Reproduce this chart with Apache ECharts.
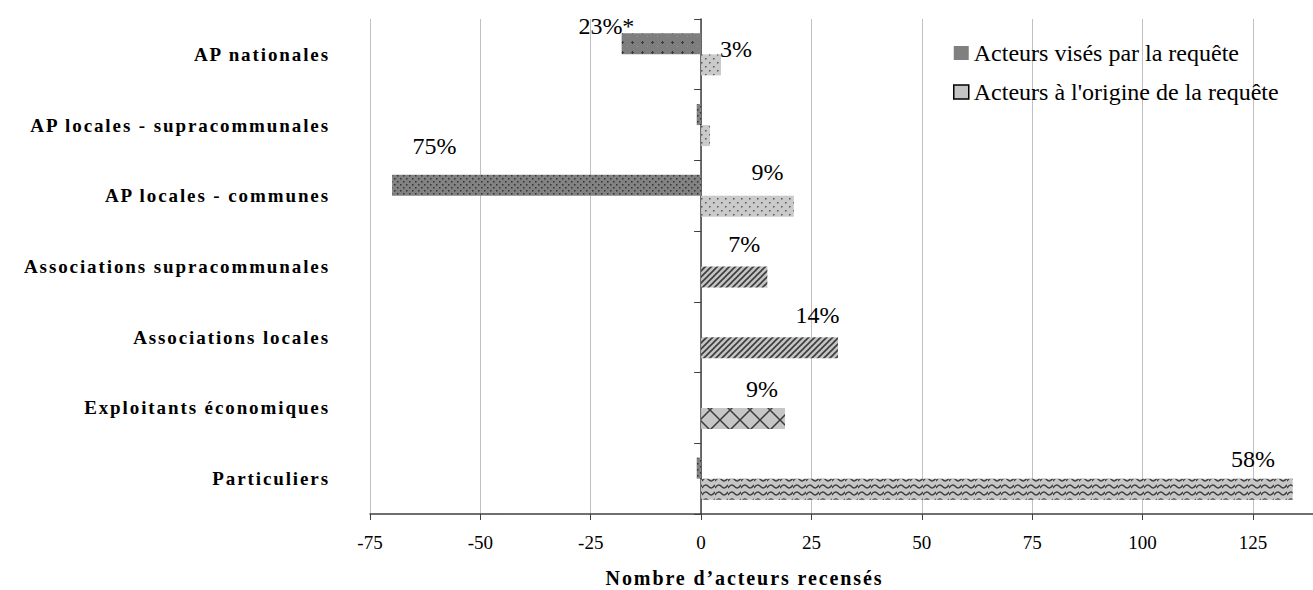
<!DOCTYPE html>
<html><head><meta charset="utf-8">
<script src="https://cdn.jsdelivr.net/npm/echarts@6/dist/echarts.min.js"></script>
<style>
html,body{margin:0;padding:0;background:#fff;}
#chart{width:1313px;height:590px;}
#chart text[style*="bold"]{letter-spacing:1.9px;}
</style></head><body><div id="chart"></div>
<script>
// ---- data ----
const categories = ['AP nationales','AP locales - supracommunales','AP locales - communes','Associations supracommunales','Associations locales','Exploitants économiques','Particuliers'];
const visesValues = [-18, -1, -70, 0, 0, 0, -1];
const origineValues = [4.5, 2, 21, 15, 31, 19, 134];
const visesLabels = ['23%*', '', '75%', '', '', '', ''];
const origineLabels = ['3%', '', '9%', '7%', '14%', '9%', '58%'];
const xTicks = [-75, -50, -25, 0, 25, 50, 75, 100, 125];
const seriesNames = ['Acteurs visés par la requête', "Acteurs à l'origine de la requête"];
const axisTitle = 'Nombre d’acteurs recensés';

// ---- styles ----
const FONT = "'Liberation Serif', 'Times New Roman', serif";
function pat(w, h, bg, draw) {
  const c = document.createElement('canvas'); c.width = w; c.height = h;
  const x = c.getContext('2d'); x.fillStyle = bg; x.fillRect(0, 0, w, h); draw(x);
  return { image: c, repeat: 'repeat' };
}
const darkPlus = pat(10, 10, '#7e7e7e', x => {
  x.fillStyle = '#3a3a3a'; x.fillRect(2, 1, 1, 3); x.fillRect(1, 2, 3, 1);
  x.fillStyle = '#9a9a9a'; x.fillRect(7, 6, 1, 1);
});
const darkDots = pat(6, 6, '#828282', x => {
  x.fillStyle = '#333'; x.fillRect(1, 1, 1.5, 1.5); x.fillRect(4, 4, 1.5, 1.5);
});
const lightDots = pat(8, 8, '#cacaca', x => {
  x.fillStyle = '#555'; x.fillRect(1, 2, 1.5, 1.5); x.fillRect(5, 6, 1.5, 1.5);
});
const stripes = pat(6, 6, '#c4c4c4', x => {
  x.strokeStyle = '#3c3c3c'; x.lineWidth = 1.6;
  x.beginPath(); x.moveTo(-1, 7); x.lineTo(7, -1); x.moveTo(-1, 1); x.lineTo(1, -1); x.moveTo(5, 7); x.lineTo(7, 5); x.stroke();
});
const lattice = pat(20, 20, '#c6c6c6', x => {
  x.strokeStyle = '#3c3c3c'; x.lineWidth = 1.5;
  x.beginPath(); x.moveTo(0, 0); x.lineTo(20, 20); x.moveTo(20, 0); x.lineTo(0, 20); x.stroke();
});
const zigzag = pat(13, 7, '#c6c6c6', x => {
  x.strokeStyle = '#3c3c3c'; x.lineWidth = 1.5;
  x.beginPath(); x.moveTo(0, 5); x.quadraticCurveTo(3.25, 0, 6.5, 3.5); x.quadraticCurveTo(9.75, 7, 13, 2); x.stroke();
});
const visesFill = [darkPlus, darkDots, darkDots, darkDots, darkDots, darkDots, darkDots];
const origineFill = [lightDots, lightDots, lightDots, stripes, stripes, lattice, zigzag];
const visesNudge = [[-55, 5], [0, 0], [-112, -17], [0, 0], [0, 0], [0, 0], [0, 0]];
const origineNudge = [[25, 7], [0, 0], [20, -12], [10, -11], [48, -10], [19, -7], [256, -8]];

function items(vals, fills, labels, nudges) {
  return vals.map((v, i) => ({
    value: v,
    itemStyle: { color: fills[i] },
    label: { show: !!labels[i], formatter: labels[i] || '', position: 'top', distance: 0, offset: nudges[i] }
  }));
}

const chart = echarts.init(document.getElementById('chart'), null, { renderer: 'svg' });
chart.setOption({
  animation: false,
  backgroundColor: '#fff',
  grid: { left: 370, right: 0, top: 19, bottom: 76, containLabel: false, outerBoundsMode: 'none' },
  legend: {
    orient: 'vertical', left: 948, top: 36, icon: 'rect', itemWidth: 15, itemHeight: 14, itemGap: 15,
    textStyle: { fontFamily: FONT, fontSize: 24, color: '#000' },
    data: [
      { name: seriesNames[0], itemStyle: { color: '#808080', borderWidth: 0 } },
      { name: seriesNames[1], itemStyle: { color: '#c4c4c4', borderColor: '#000', borderWidth: 1.5 } }
    ]
  },
  xAxis: {
    type: 'value', min: xTicks[0], max: 138.6, interval: xTicks[1] - xTicks[0],
    axisLine: { show: true, onZero: false, lineStyle: { color: '#404040', width: 1.5 } },
    axisTick: { show: true, length: 6, lineStyle: { color: '#404040' } },
    axisLabel: { showMaxLabel: false, color: '#000', fontFamily: FONT, fontSize: 19, margin: 19 },
    splitLine: { show: true, lineStyle: { color: '#c0c0c0', width: 1 } },
    name: axisTitle, nameLocation: 'middle', nameGap: 54,
    nameTextStyle: { fontFamily: FONT, fontSize: 20, fontWeight: 'bold', color: '#000', padding: [0, 194, 0, 0] }
  },
  yAxis: {
    type: 'category', data: categories, inverse: true,
    axisLine: { show: true, onZero: true, lineStyle: { color: '#404040', width: 1.5 } },
    axisTick: { show: true, length: 7, lineStyle: { color: '#404040' } },
    axisLabel: { margin: 40, fontFamily: FONT, fontSize: 19, fontWeight: 'bold', color: '#000' },
    splitLine: { show: false }
  },
  series: [
    {
      name: seriesNames[0], type: 'bar', barWidth: 21, barGap: '0%',
      label: { fontFamily: FONT, fontSize: 24, color: '#000' },
      data: items(visesValues, visesFill, visesLabels, visesNudge)
    },
    {
      name: seriesNames[1], type: 'bar', barWidth: 21, barGap: '0%',
      label: { fontFamily: FONT, fontSize: 24, color: '#000' },
      data: items(origineValues, origineFill, origineLabels, origineNudge)
    }
  ]
});
</script></body></html>
